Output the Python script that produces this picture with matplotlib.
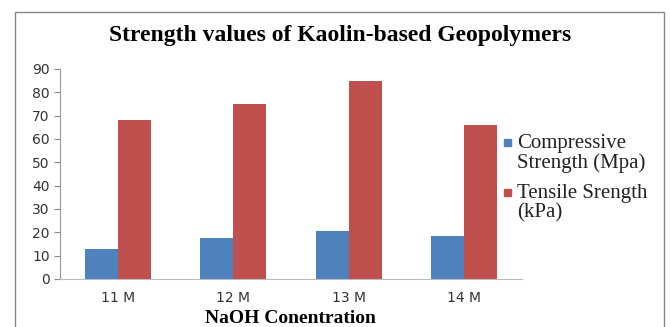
import matplotlib.pyplot as plt
import numpy as np
from matplotlib.patches import Rectangle

categories = ['11 M', '12 M', '13 M', '14 M']
compressive = [13, 17.5, 20.5, 18.5]
tensile = [68, 75, 85, 66]
series_names = ['Compressive\nStrength (Mpa)', 'Tensile Srength\n(kPa)']
colors = ['#4f81bd', '#c0504d']

fig = plt.figure(figsize=(6.7, 3.27), dpi=100)
ax = fig.add_axes([60 / 670, 48 / 327, 462 / 670, 210 / 327])

x = np.arange(len(categories))
w = 0.285
ax.bar(x - w / 2, compressive, w, color=colors[0])
ax.bar(x + w / 2, tensile, w, color=colors[1])

ax.set_ylim(0, 90)
ax.set_xlim(-0.5, 3.5)
ax.set_yticks(range(0, 91, 10))
ax.set_xticks(x)
ax.set_xticklabels(categories)
ax.tick_params(axis='y', length=4, color='#888888', labelsize=10, labelcolor='#333333')
ax.tick_params(axis='x', length=0, labelsize=10, labelcolor='#333333', pad=9)
for s in ['top', 'right']:
    ax.spines[s].set_visible(False)
ax.spines['left'].set_color('#999999')
ax.spines['bottom'].set_color('#bbbbbb')

fig.text(290 / 670, 4 / 327, 'NaOH Conentration', ha='center', va='baseline',
         family='Liberation Serif', fontweight='bold', fontsize=14)
fig.text(340 / 670, 1 - 36 / 327, 'Strength values of Kaolin-based Geopolymers',
         ha='center', va='center', family='Liberation Serif', fontweight='bold',
         fontsize=17)

# legend drawn by hand so the square sits on the first text line
leg_tops = [134 / 327, 184 / 327]
for name, c, top in zip(series_names, colors, leg_tops):
    fig.patches.append(Rectangle((504 / 670, 1 - top - 12 / 327), 7 / 670, 7 / 327,
                                 transform=fig.transFigure, color=c))
    fig.text(517 / 670, 1 - top, name, ha='left', va='top',
             family='Liberation Serif', fontsize=15, linespacing=1.0,
             color='#222222')

fig.patches.append(Rectangle((15 / 670, -0.1), 649 / 670, 1.1 - 12 / 327,
                             transform=fig.transFigure, fill=False,
                             edgecolor='#888888', linewidth=1))

fig.savefig('out.png', dpi=100)
